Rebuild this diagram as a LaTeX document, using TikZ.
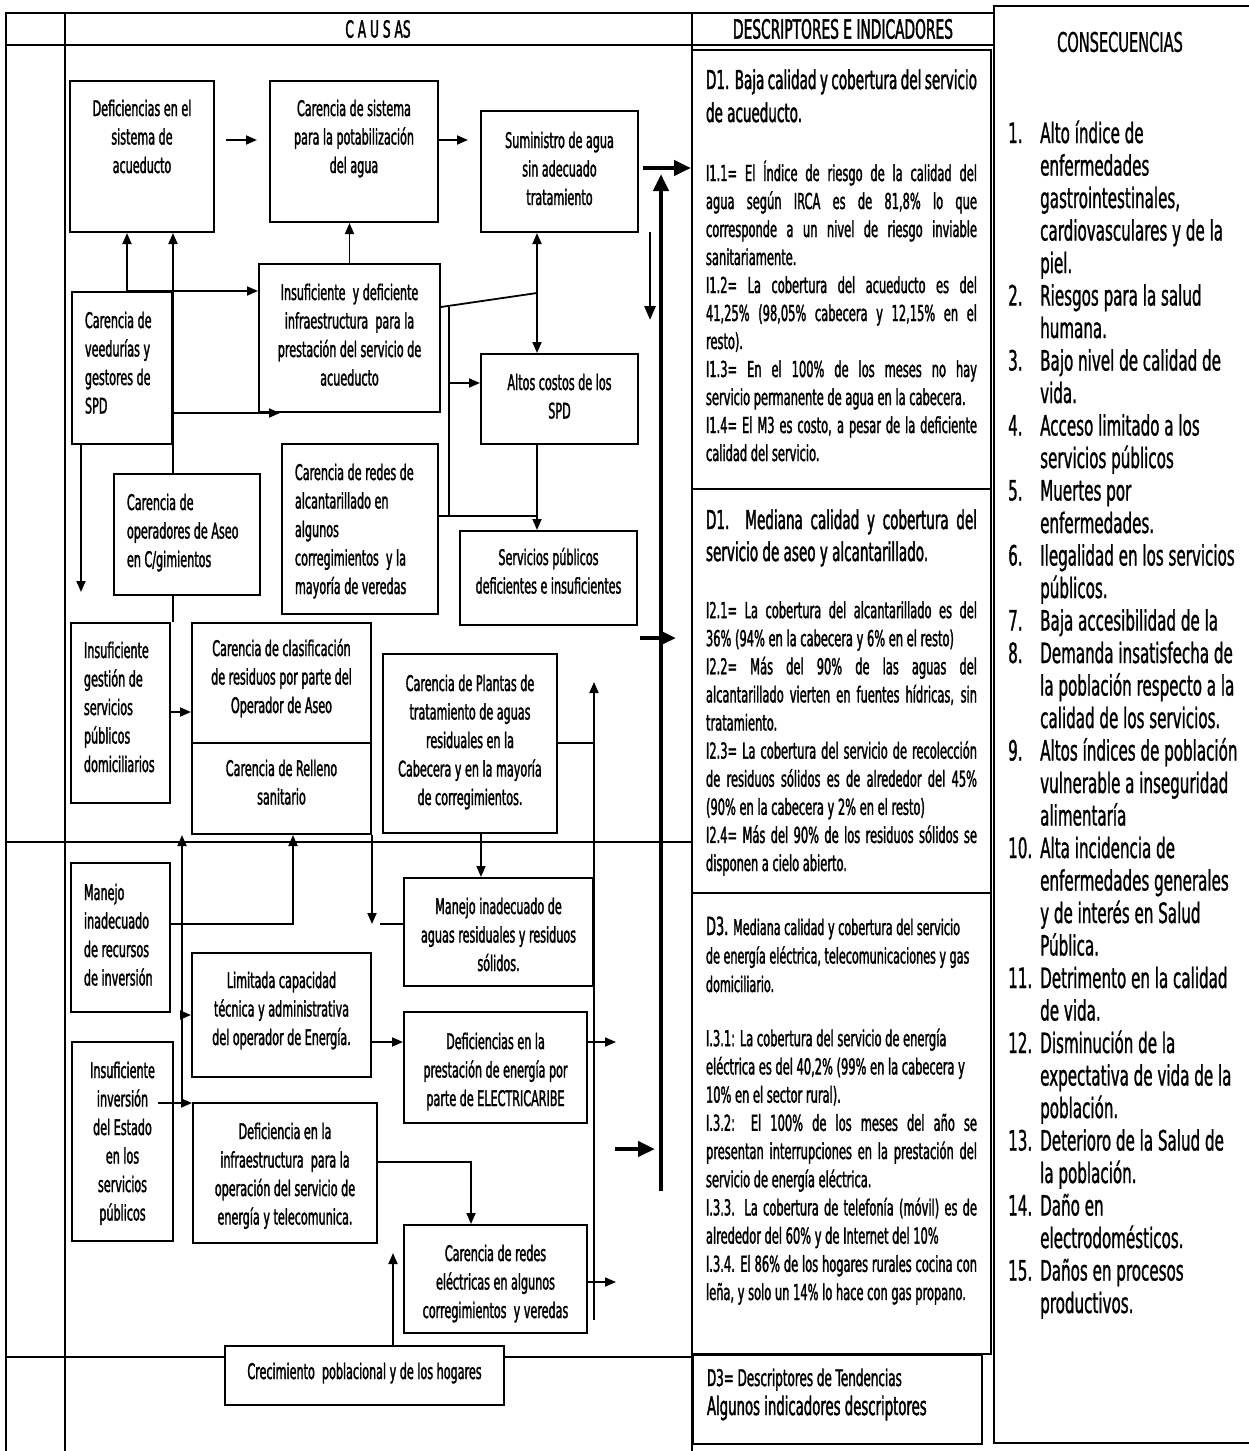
\documentclass[tikz,border=0pt]{standalone}
\usepackage{fontspec}
\usetikzlibrary{arrows.meta}
\newfontfamily\causafont[FakeStretch=0.52, FakeBold=1.5]{DejaVu Sans}
\newfontfamily\consfont[FakeStretch=0.54, FakeBold=1]{DejaVu Sans}
\newcommand{\cajafont}{\causafont\fontsize{21.5}{28.5}\selectfont}
\newcommand{\justline}[1]{\makebox[271pt][s]{#1}}

\tikzset{
  caja/.style={draw, line width=2pt, anchor=north, inner xsep=6pt, inner ysep=0pt, align=flush center, font=\cajafont},
  cajaizq/.style={caja, align=flush left, inner xsep=13pt},
  desc/.style={draw, line width=2pt, anchor=north, inner xsep=14pt, inner ysep=0pt, align=flush left, text width=271pt, font=\causafont},
  marco/.style={line width=1.8pt},
  linea/.style={line width=1.8pt},
  flecha/.style={linea, ->},
  doble/.style={linea, <->},
  media/.style={line width=2.8pt, -{Triangle[length=14pt,width=11pt]}},
  gruesa/.style={line width=4.5pt, -{Triangle[length=17pt,width=15pt]}},
}

\begin{document}
\begin{tikzpicture}[x=1pt, y=-1pt, >={Triangle[length=11pt,width=9pt]}]
\useasboundingbox (0,0) rectangle (1249,1451);

% cuadro
\draw[marco] (5,13) -- (993,13) (5,45) -- (993,45);
\draw[marco] (6,13) -- (6,1451) (65,13) -- (65,1451) (692,13) -- (692,1451);
\draw[marco] (6,842) -- (692,842) (6,1357) -- (692,1357);
\node[font=\causafont\fontsize{23.5}{28}\selectfont] (causas) at (378,29) {C A U S AS};
\node[font=\causafont\fontsize{26.5}{30}\selectfont] (deschead) at (843,29) {DESCRIPTORES E INDICADORES};

% causas
\node[caja, text width=132pt, text height=35pt, text depth=116pt] (b1) at (142,80) {Deficiencias en el\\sistema de\\acueducto};
\node[caja, text width=156pt, text height=35pt, text depth=106pt] (b2) at (354,80) {Carencia de sistema\\para la potabilización\\del agua};
\node[caja, text width=145pt, text height=37pt, text depth=84pt] (b3) at (559.5,110) {Suministro de agua\\sin adecuado\\tratamiento};
\node[cajaizq, text width=74pt, text height=36pt, text depth=116pt] (b4) at (122,291) {Carencia de\\veedurías y\\gestores de\\SPD};
\node[caja, text width=169pt, text height=36pt, text depth=112pt] (b5) at (349.5,263) {Insuficiente \ y deficiente\\infraestructura \ para la\\prestación del servicio de\\acueducto};
\node[caja, text width=145pt, text height=36pt, text depth=54pt] (b6) at (559.5,353) {Altos costos de los\\SPD};
\node[cajaizq, text width=120pt, text height=36pt, text depth=85pt] (b7) at (187,473) {Carencia de\\operadores de Aseo\\en C/gimientos};
\node[cajaizq, text width=130pt, text height=36pt, text depth=134pt] (b8) at (360,443) {Carencia de redes de\\alcantarillado en\\algunos\\corregimientos \ y la\\mayoría de veredas};
\node[caja, text width=165pt, text height=34pt, text depth=60pt] (b9) at (548.5,530) {Servicios públicos\\deficientes e insuficientes};
\node[cajaizq, text width=73pt, text height=35pt, text depth=145pt] (b10) at (120.5,622) {Insuficiente\\gestión de\\servicios\\públicos\\domiciliarios};
\node[caja, text width=167pt, text height=33pt, text depth=87pt] (b11) at (281.5,622) {Carencia de clasificación\\de residuos por parte del\\Operador de Aseo};
\node[caja, text width=167pt, text height=33pt, text depth=58pt] (b12) at (281.5,742) {Carencia de Relleno\\sanitario};
\node[caja, text width=162pt, text height=37pt, text depth=142pt] (b13) at (470,653) {Carencia de Plantas de\\tratamiento de aguas\\residuales en la\\Cabecera y en la mayoría\\de corregimientos.};
\node[cajaizq, text width=73pt, text height=37pt, text depth=112pt] (b14) at (120.5,862) {Manejo\\inadecuado\\de recursos\\de inversión};
\node[caja, text width=177pt, text height=36pt, text depth=72pt] (b15) at (498.5,877) {Manejo inadecuado de\\aguas residuales y residuos\\sólidos.};
\node[caja, text width=167pt, text height=35pt, text depth=89pt] (b16) at (281.5,952) {Limitada capacidad\\técnica y administrativa\\del operador de Energía.};
\node[caja, text width=171pt, text height=37pt, text depth=74pt] (b17) at (495.5,1011) {Deficiencias en la\\prestación de energía por\\parte de ELECTRICARIBE};
\node[caja, text width=89pt, text height=36pt, text depth=163pt] (b18) at (122.5,1041) {Insuficiente\\inversión\\del Estado\\en los\\servicios\\públicos};
\node[caja, text width=172pt, text height=36pt, text depth=104pt] (b19) at (285,1102) {Deficiencia en la\\infraestructura \ para la\\operación del servicio de\\energía y telecomunica.};
\node[caja, text width=171pt, text height=36pt, text depth=72pt] (b20) at (495.5,1224) {Carencia de redes\\eléctricas en algunos\\corregimientos \ y veredas};
\node[caja, fill=white, text width=267pt, text height=33pt, text depth=26pt] (b21) at (364.5,1345) {Crecimiento \ poblacional y de los hogares};

% descriptores
\node[desc, text height=39pt, text depth=400pt] (d1) at (841.5,49) {%
{\fontsize{26}{33}\selectfont \justline{D1. Baja calidad y cobertura del servicio}\\de acueducto.\par}
\vspace{31pt}
{\fontsize{22}{28}\selectfont
\justline{I1.1= El Índice de riesgo de la calidad del}\\
\justline{agua según IRCA es de 81,8\% lo que}\\
\justline{corresponde a un nivel de riesgo inviable}\\
sanitariamente.\\
\justline{I1.2= La cobertura del acueducto es del}\\
\justline{41,25\% (98,05\% cabecera y 12,15\% en el}\\
resto).\\
\justline{I1.3= En el 100\% de los meses no hay}\\
servicio permanente de agua en la cabecera.\\
\justline{I1.4= El M3 es costo, a pesar de la deficiente}\\
calidad del servicio.\par}};
\node[desc, text height=40pt, text depth=364pt] (d2) at (841.5,488) {%
{\fontsize{26}{32}\selectfont \justline{D1. Mediana calidad y cobertura del}\\servicio de aseo y alcantarillado.\par}
\vspace{29pt}
{\fontsize{22}{28.1}\selectfont
\justline{I2.1= La cobertura del alcantarillado es del}\\
36\% (94\% en la cabecera y 6\% en el resto)\\
\justline{I2.2= Más del 90\% de las aguas del}\\
\justline{alcantarillado vierten en fuentes hídricas, sin}\\
tratamiento.\\
\justline{I2.3= La cobertura del servicio de recolección}\\
\justline{de residuos sólidos es de alrededor del 45\%}\\
(90\% en la cabecera y 2\% en el resto)\\
\justline{I2.4= Más del 90\% de los residuos sólidos se}\\
disponen a cielo abierto.\par}};
\node[desc, text height=42pt, text depth=419pt] (d3) at (841.5,892) {%
{\fontsize{21.5}{28.5}\selectfont {\fontsize{25}{28.5}\selectfont D3.} Mediana calidad y cobertura del servicio\\
de energía eléctrica, telecomunicaciones y gas\\
domiciliario.\par}
\vspace{26pt}
{\fontsize{22}{28.2}\selectfont
I.3.1: La cobertura del servicio de energía\\
eléctrica es del 40,2\% (99\% en la cabecera y\\
10\% en el sector rural).\\
\justline{I.3.2: El 100\% de los meses del año se}\\
\justline{presentan interrupciones en la prestación del}\\
servicio de energía eléctrica.\\
\justline{I.3.3. La cobertura de telefonía (móvil) es de}\\
alrededor del 60\% y de Internet del 10\%\\
\justline{I.3.4. El 86\% de los hogares rurales cocina con}\\
leña, y solo un 14\% lo hace con gas propano.\par}};
\node[desc, text width=261pt, text height=31pt, text depth=58pt] (leyenda) at (837.5,1354) {%
{\fontsize{23}{29}\selectfont D3= Descriptores de Tendencias\par}
{\fontsize{25.5}{29}\selectfont Algunos indicadores descriptores\par}};

% consecuencias
\node[draw, line width=2pt, anchor=north west, inner sep=0pt, minimum width=262pt, minimum height=1437pt] (cons) at (993,5) {};
\node[font=\consfont\fontsize{27}{30}\selectfont] (constit) at (1120,42) {CONSECUENCIAS};
\node[anchor=base west, inner sep=0pt, font=\consfont\fontsize{28}{32.5}\selectfont] (lista) at (1008,143) {%
\begin{tabular}[t]{@{}p{32pt}@{}l@{}}
1. & Alto índice de\\
   & enfermedades\\
   & gastrointestinales,\\
   & cardiovasculares y de la\\
   & piel.\\
2. & Riesgos para la salud\\
   & humana.\\
3. & Bajo nivel de calidad de\\
   & vida.\\
4. & Acceso limitado a los\\
   & servicios públicos\\
5. & Muertes por\\
   & enfermedades.\\
6. & Ilegalidad en los servicios\\
   & públicos.\\
7. & Baja accesibilidad de la\\
8. & Demanda insatisfecha de\\
   & la población respecto a la\\
   & calidad de los servicios.\\
9. & Altos índices de población\\
   & vulnerable a inseguridad\\
   & alimentaría\\
10. & Alta incidencia de\\
   & enfermedades generales\\
   & y de interés en Salud\\
   & Pública.\\
11. & Detrimento en la calidad\\
   & de vida.\\
12. & Disminución de la\\
   & expectativa de vida de la\\
   & población.\\
13. & Deterioro de la Salud de\\
   & la población.\\
14. & Daño en\\
   & electrodomésticos.\\
15. & Daños en procesos\\
   & productivos.
\end{tabular}};

% niveles y puntos libres
\coordinate (yA) at (0,140);
\coordinate (yB) at (0,168);
\coordinate (yC) at (0,638);
\coordinate (yD) at (0,383);
\coordinate (yE) at (0,712);
\coordinate (yF) at (0,743);
\coordinate (yG) at (0,924);
\coordinate (yH) at (0,1103);
\coordinate (yI) at (0,1042);
\coordinate (yJ) at (0,1162);
\coordinate (yL) at (0,1282);
\coordinate (xA) at (127,0);
\coordinate (xB) at (594,0);
\coordinate (xC) at (481,0);
\coordinate (xD) at (293,0);
\coordinate (xE) at (182,0);
\coordinate (xF) at (471,0);
\coordinate (j1) at (537,293);
\coordinate (j2) at (449,307);
\coordinate (j3) at (449,516);
\coordinate (sup) at (661,174);
\coordinate (sdown) at (661,1191);
\coordinate (fC) at (676,638);
\coordinate (fD) at (615,1149);
\coordinate (fE1) at (650,232);
\coordinate (fE2) at (650,320);
\coordinate (fF) at (81,592);
\coordinate (fG) at (158,1103);
\coordinate (fH) at (393,1253);
\coordinate (vtop) at (594,682);
\coordinate (vbot) at (594,1320);

% conectores
\path[flecha]
  (b1.east |- yA) edge[shorten <=11pt, shorten >=12pt] (b2.west |- yA)
  (b2.east |- yA) edge[shorten >=12pt] (b3.west |- yA)
  (b4.north -| xA) edge (b1.south -| xA)
  (b4.north -| xA) edge (b5.west |- b4.north)
  (b7.north -| b4.east) edge (b1.south -| b4.east)
  (b5.north) edge (b2.south -| b5.north)
  (j2 |- yD) edge (b6.west |- yD)
  (b6.south -| j1) edge (b9.north -| j1)
  (b4.south -| fF) edge (fF)
  (b10.east |- yE) edge (b11.west |- yE)
  (vbot) edge (vtop)
  (b13.south -| xC) edge (b15.north -| xC)
  (b12.south east) edge (b12.south east |- yG)
  (xE |- yH) edge (xE |- b12.south)
  (xE |- b16.west) edge (b16.west)
  (fG) edge (b19.west |- fG)
  (b16.east |- yI) edge (b17.west |- yI)
  (b21.north -| fH) edge (fH);
\draw[flecha] (b4.east |- b5.south) -- ++(107,0);
\draw[flecha] (b14.east |- yG) -| (b12.south -| xD);
\draw[flecha] (b19.east |- yJ) -| (b20.north -| xF);
\draw[flecha] (b17.east |- yI) -- ++(28,0);
\draw[flecha] (b20.east |- yL) -- ++(28,0);
\draw[doble] (b3.south -| j1) -- (b6.north -| j1);
\draw[linea] (b5.east |- j2) -- (j1);
\draw[linea] (j2) -- (j3);
\draw[linea] (b8.east |- j3) -- (j3 -| j1);
\draw[linea] (b7.south -| b4.east) -- (b10.north -| b4.east);
\draw[linea] (b13.east |- yF) -- (xB |- yF);
\draw[linea] (b15.west |- yG) -- ++(-23,0);
\draw[media] (fE1) -- (fE2);
\draw[gruesa, shorten <=4pt] (b3.east |- yB) -- (d1.west |- yB);
\draw[gruesa] (sdown) -- (sup);
\draw[gruesa, shorten <=2pt] (b9.east |- yC) -- (fC);
\draw[gruesa, shorten >=6pt] (fD) -- (sdown |- fD);
\end{tikzpicture}
\end{document}
